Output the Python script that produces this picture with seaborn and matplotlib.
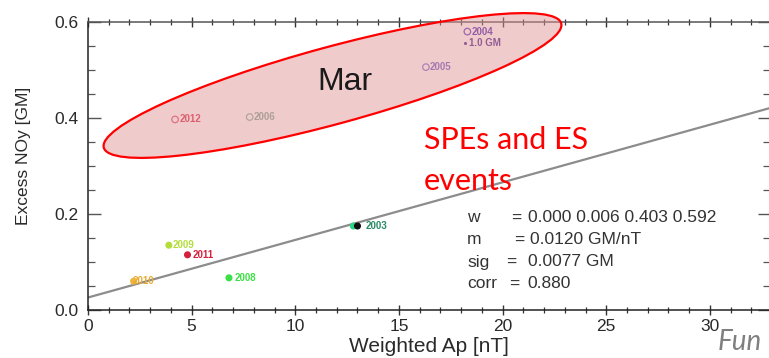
import matplotlib
matplotlib.use("Agg")
import matplotlib.pyplot as plt
from matplotlib.patches import Ellipse
from matplotlib.ticker import MultipleLocator
import seaborn as sns
import pandas as pd

# ---------------- data ----------------
open_years = ["2012", "2006", "2005", "2004"]
open_ap = [4.2, 7.8, 16.3, 18.3]
open_noy = [0.397, 0.402, 0.506, 0.580]

filled_years = ["2009", "2011", "2010", "2008", "2003", ""]
filled_ap = [3.9, 4.8, 2.2, 6.8, 12.8, 13.0]
filled_noy = [0.135, 0.115, 0.060, 0.067, 0.175, 0.175]

scale_label = "1.0 GM"
scale_ap = [18.2]
scale_noy = [0.556]

fit_ap = [0.0, 35.0]
fit_noy = [0.026, 0.446]

stats_names = ["w", "m", "sig", "corr"]
stats_values = ["0.000 0.006 0.403 0.592", "0.0120 GM/nT", "0.0077 GM", "0.880"]

x_ticks = [0, 5, 10, 15, 20, 25, 30]
y_ticks = [0.0, 0.2, 0.4, 0.6]

colors = {
    "2012": "#e2506e", "2006": "#86b4a4", "2005": "#8470d4", "2004": "#5a3cc4",
    "2009": "#b4dc3c", "2011": "#d6203e", "2010": "#f0b43c", "2008": "#3ce046",
    "2003": "#2cd486", "": "#101010",
}
label_colors = {
    "2012": "#d83050", "2006": "#7aa898", "2005": "#7460c8", "2004": "#4a2cb8",
    "2009": "#b4dc3c", "2011": "#d6203e", "2010": "#e8aa30", "2008": "#3ce046",
    "2003": "#2a8a66",
}

# ---------------- figure ----------------
W, H = 769, 358
sns.set_style("white")
plt.rcParams["font.family"] = ["Liberation Sans", "DejaVu Sans"]

fig = plt.figure(figsize=(W / 100, H / 100), dpi=100)

def fx(px):
    return px / W

def fy(py):
    return 1 - py / H

ax_left, ax_right, ax_top, ax_bot = 88, 770, 22, 310
ax = fig.add_axes([fx(ax_left), fy(ax_bot), (ax_right - ax_left) / W, (ax_bot - ax_top) / H])

px_per_x = 20.73
ax.set_xlim(0, (ax_right - ax_left) / px_per_x)
ax.set_ylim(0, 0.6)

# fit line
sns.lineplot(x=fit_ap, y=fit_noy, color="#8c8c8c", linewidth=1.6, ax=ax, zorder=2)

# open circles
df_open = pd.DataFrame({"ap": open_ap, "noy": open_noy, "year": open_years})
sns.scatterplot(data=df_open, x="ap", y="noy", hue="year", palette=colors,
                s=22, legend=False, ax=ax, zorder=3)
coll = ax.collections[-1]
fcs = coll.get_facecolors()
coll.set_edgecolors(fcs)
coll.set_facecolors("none")
coll.set_linewidths(0.9)

# filled points
df_fill = pd.DataFrame({"ap": filled_ap, "noy": filled_noy, "year": filled_years})
sns.scatterplot(data=df_fill, x="ap", y="noy", hue="year", palette=colors,
                s=26, linewidth=0, legend=False, ax=ax, zorder=3)

# scale marker
sns.scatterplot(x=scale_ap, y=scale_noy, color="#4a2c90", s=5, linewidth=0,
                legend=False, ax=ax, zorder=3)

# point labels
label_offsets = {"2012": 3, "2006": 3, "2005": 3, "2004": 3, "2009": 3,
                 "2011": 4, "2010": -1, "2008": 4, "2003": 9}
for yr, xv, yv in zip(open_years + filled_years, open_ap + filled_ap, open_noy + filled_noy):
    if not yr:
        continue
    ax.annotate(yr, (xv, yv), xytext=(label_offsets[yr], 0), textcoords="offset points",
                va="center", ha="left", fontsize=7, fontweight="bold",
                color=label_colors[yr], zorder=4)
ax.annotate(scale_label, (scale_ap[0], scale_noy[0]), xytext=(3, 0), textcoords="offset points",
            va="center", ha="left", fontsize=7, fontweight="bold", color="#4a2c90", zorder=4)

# axes styling
ax.set_xticks(x_ticks)
ax.set_yticks(y_ticks)
ax.set_xticklabels([str(t) for t in x_ticks])
ax.set_yticklabels([f"{t:.1f}" for t in y_ticks])
ax.xaxis.set_minor_locator(MultipleLocator(1))
ax.yaxis.set_minor_locator(MultipleLocator(0.05))
for s in ax.spines.values():
    s.set_visible(True)
    s.set_linewidth(1.1)
    s.set_color("#222222")
ax.spines["top"].set_color("#555555")
ax.tick_params(axis="x", which="both", direction="inout", top=True, bottom=True,
               color="#333333", labelsize=12.5, labelcolor="#2a2a2a", pad=3)
ax.tick_params(axis="x", which="major", length=7, width=1.0)
ax.tick_params(axis="x", which="minor", length=5, width=0.9)
ax.tick_params(axis="y", which="both", direction="in", left=True, right=True,
               color="#555555", labelsize=12.5, labelcolor="#2a2a2a", pad=7)
ax.tick_params(axis="y", which="major", length=9, width=1.0)
ax.tick_params(axis="y", which="minor", length=5, width=0.9)
ax.set_xlabel("")
ax.set_ylabel("")

fig.text(fx(429), fy(347), "Weighted Ap [nT]", ha="center", va="center",
         fontsize=15, color="#2a2a2a")
fig.text(fx(24), fy(156), "Excess NOy [GM]", ha="center", va="center",
         rotation=90, fontsize=12.5, color="#2a2a2a")

# stats text block
rows_y = [218, 240, 262, 284]
eq_x = [511, 514, 506, 509]
val_x = [528, 530, 528, 527]
for name, val, yy, ex, vx in zip(stats_names, stats_values, rows_y, eq_x, val_x):
    fig.text(fx(467), fy(yy), name, ha="left", va="center", fontsize=12.5, color="#333333")
    fig.text(fx(ex), fy(yy), "=", ha="left", va="center", fontsize=12.5, color="#333333")
    fig.text(fx(vx), fy(yy), val, ha="left", va="center", fontsize=12.5, color="#333333")

# highlight ellipse (pixel based overlay)
ell = Ellipse((332.5 / 100, (H - 85.5) / 100), 4.74, 0.77, angle=15.2,
              transform=fig.dpi_scale_trans, facecolor=(0.88, 0.58, 0.58, 0.48),
              edgecolor="#ff0000", linewidth=1.6, zorder=5)
fig.add_artist(ell)
fig.text(fx(345), fy(90), "Mar", ha="center", va="baseline", fontsize=23,
         color="#1a1a1a", zorder=6)

# annotations
fig.text(fx(424), fy(149), "SPEs and ES", ha="left", va="baseline", fontsize=22,
         color="#ff0000", family=["Lato", "DejaVu Sans"], zorder=6)
fig.text(fx(424), fy(190), "events", ha="left", va="baseline", fontsize=22,
         color="#ff0000", family=["Lato", "DejaVu Sans"], zorder=6)
fig.text(fx(718), fy(355), "Fun", ha="left", va="bottom", fontsize=20,
         color="#7f7f7f", style="italic", family=["Lato", "DejaVu Sans"], zorder=6)

fig.savefig("out.png", dpi=100)
